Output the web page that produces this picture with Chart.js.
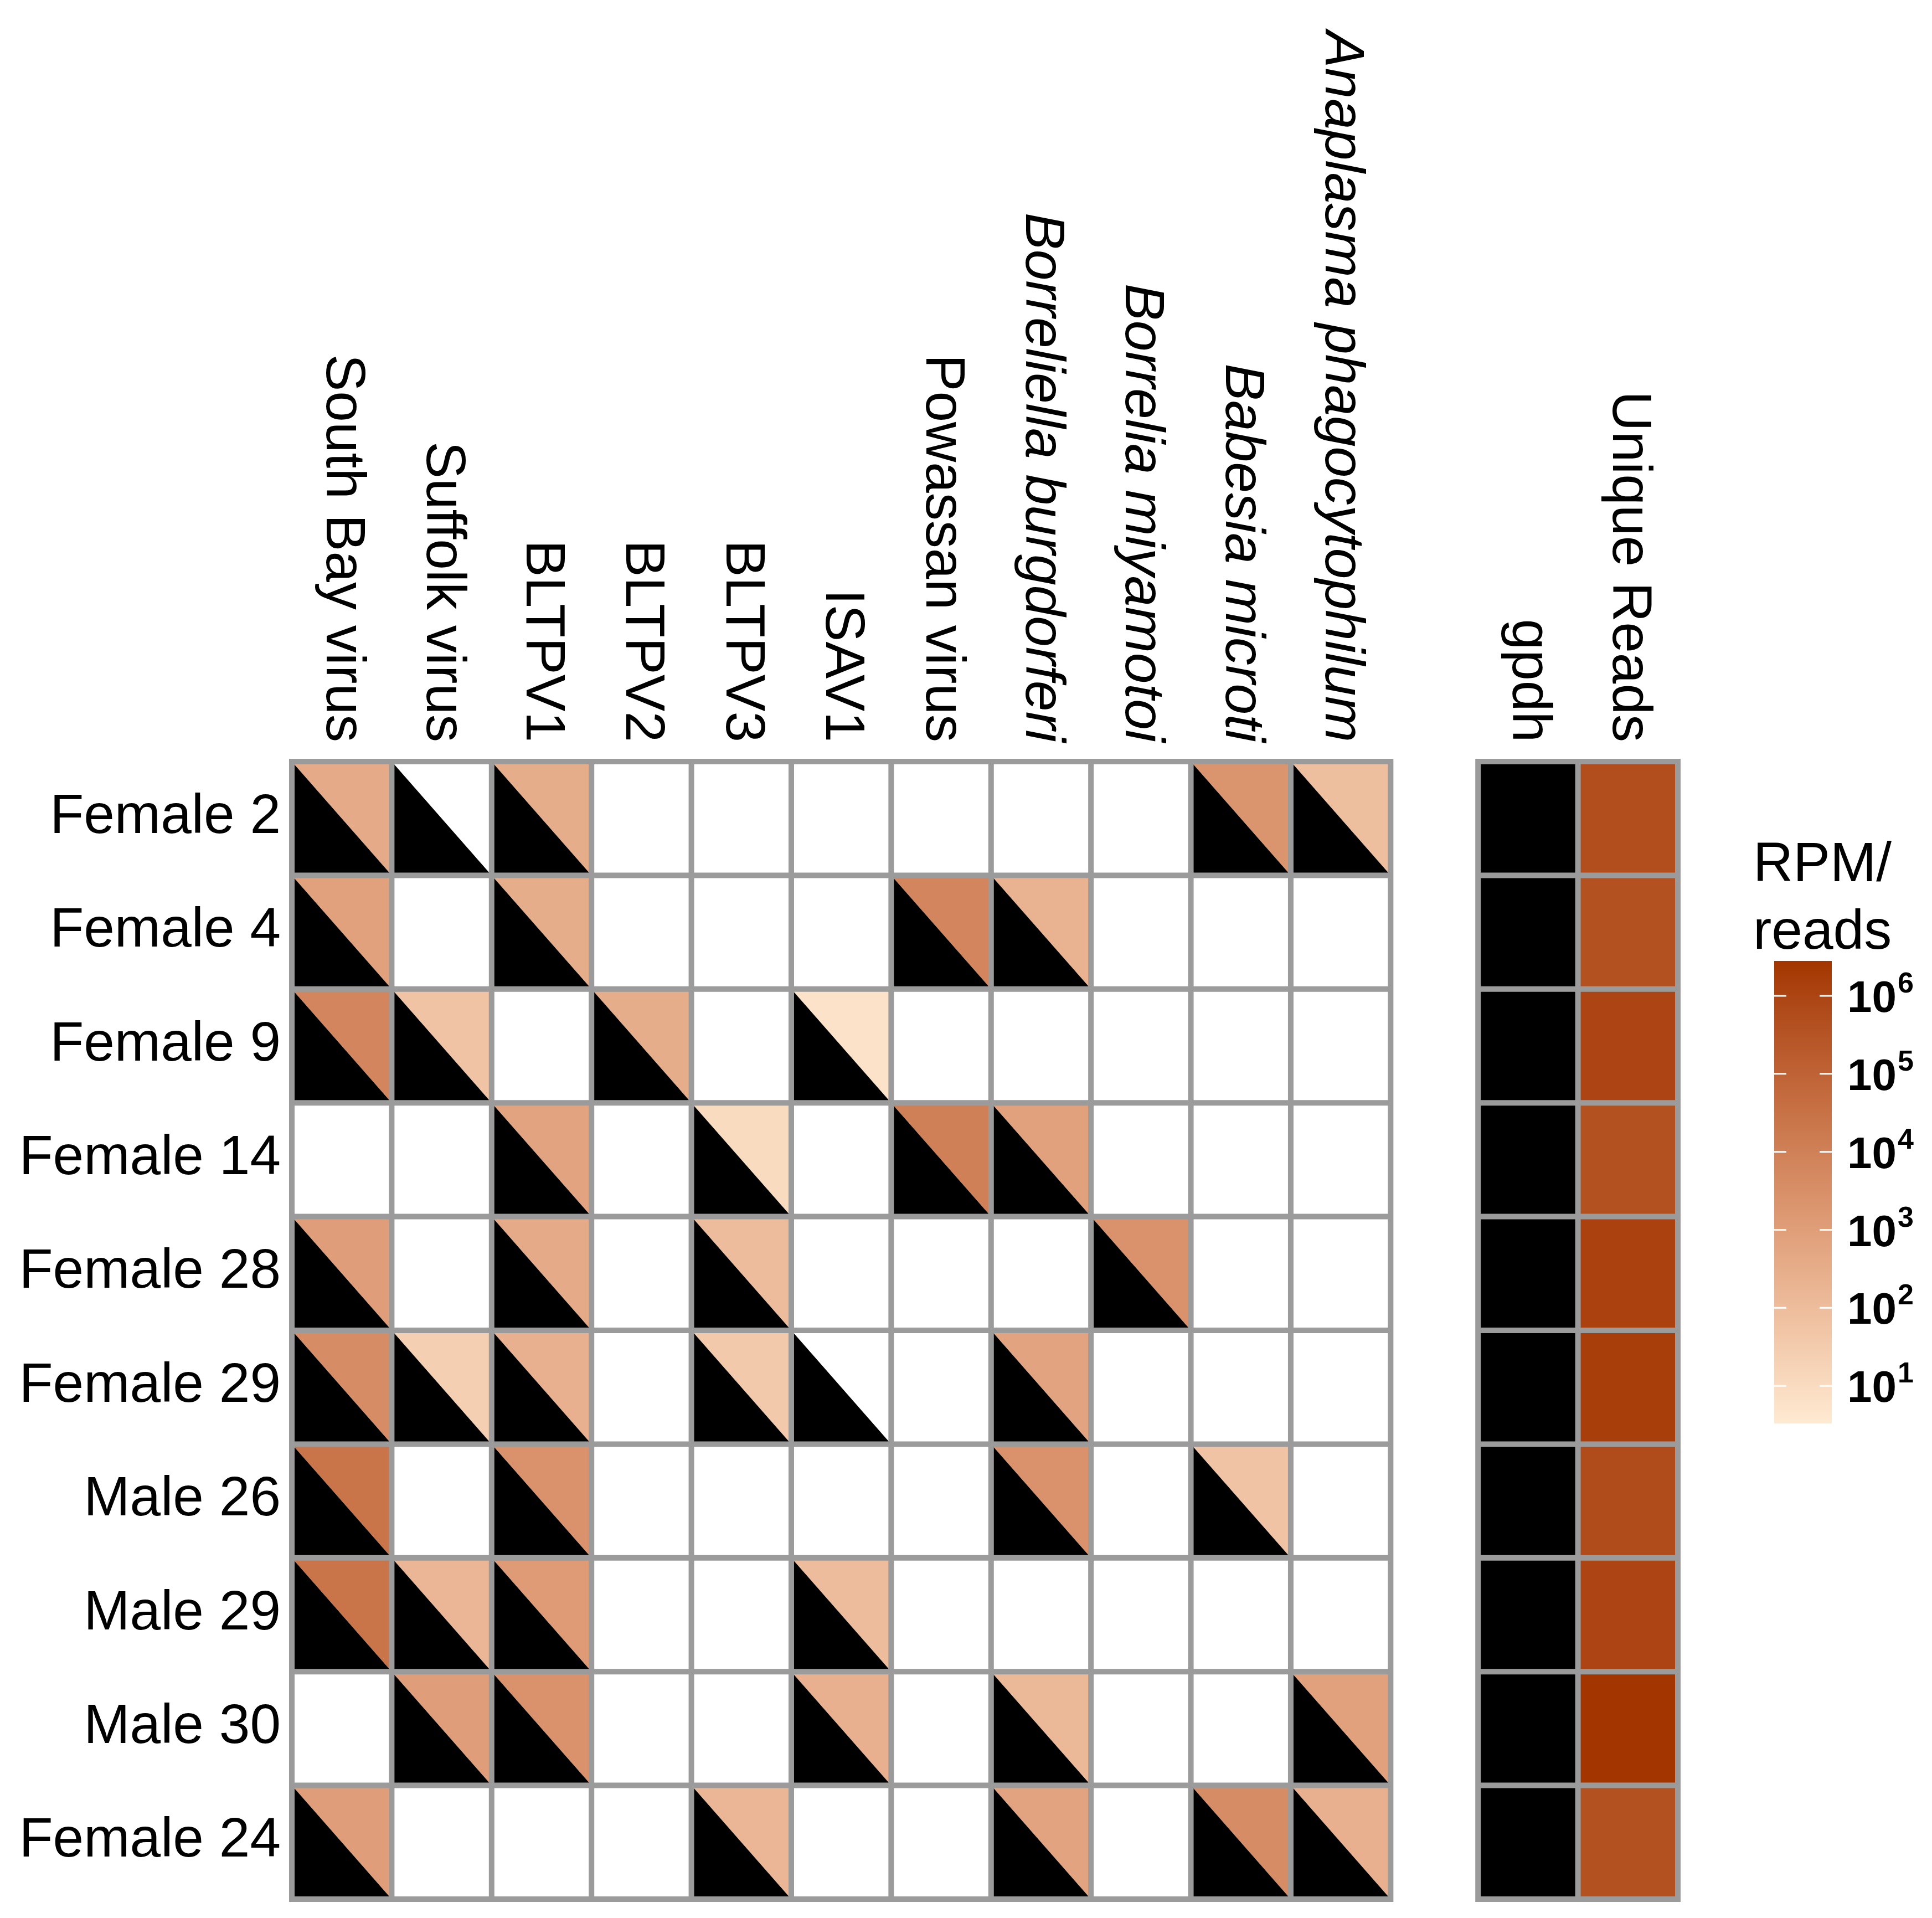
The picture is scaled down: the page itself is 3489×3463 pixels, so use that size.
<!DOCTYPE html>
<html>
<head>
<meta charset="utf-8">
<script src="https://cdn.jsdelivr.net/npm/chart.js@4.4.1/dist/chart.umd.min.js"></script>
<style>
html,body{margin:0;padding:0;background:#ffffff;}
canvas{display:block;}
</style>
</head>
<body>
<canvas id="c" width="3489" height="3463" style="width:3489px;height:3463px"></canvas>
<script>
// ---------------- DATA ----------------
const samples = ["Female 2","Female 4","Female 9","Female 14","Female 28","Female 29","Male 26","Male 29","Male 30","Female 24"];
const pathogens = ["South Bay virus","Suffolk virus","BLTPV1","BLTPV2","BLTPV3","ISAV1","Powassan virus","Borreliella burgdorferi","Borrelia miyamotoi","Babesia microti","Anaplasma phagocytophilum"];
const italicPathogens = ["Borreliella burgdorferi","Borrelia miyamotoi","Babesia microti","Anaplasma phagocytophilum"];
// RPM per sample (null = not detected, 0 = detected but no RPM value)
const southBay    = [400, 800, 6300, null, 1000, 4000, 25000, 25000, null, 1000];
const suffolk     = [0, null, 60, null, null, 25, null, 160, 1000, null];
const bltpv1      = [320, 320, null, 630, 400, 250, 2500, 1250, 2500, null];
const bltpv2      = [null, null, 320, null, null, null, null, null, null, null];
const bltpv3      = [null, null, null, 10, 100, 40, null, null, null, 160];
const isav1       = [null, null, 6, null, null, 0, null, 100, 250, null];
const powassan    = [null, 6300, null, 10000, null, null, null, null, null, null];
const borreliella = [null, 200, null, 800, null, 630, 2500, null, 125, 630];
const miyamotoi   = [null, null, null, null, 2500, null, null, null, null, null];
const babesia     = [2000, null, null, null, null, null, 60, null, null, 4000];
const anaplasma   = [80, null, null, null, null, null, null, null, 800, 250];
const gpdh        = [1, 1, 1, 1, 1, 1, 1, 1, 1, 1];
const uniqueReads = [500000, 400000, 1000000, 400000, 1300000, 1600000, 600000, 1000000, 2800000, 400000];
const controlLabels = ["gpdh", "Unique Reads"];
const legendTitle = ["RPM/", "reads"];
const legendTicks = [10, 100, 1000, 10000, 100000, 1000000];
const colourLimits = [3.3, 2800000];

const pathogenSeries = [southBay, suffolk, bltpv1, bltpv2, bltpv3, isav1, powassan, borreliella, miyamotoi, babesia, anaplasma];

// ---------------- COLOUR SCALE (Lab interpolation) ----------------
const LOW = [254, 234, 210], HIGH = [163, 54, 0];
function srgb2lin(c){c/=255;return c<=0.04045?c/12.92:Math.pow((c+0.055)/1.055,2.4);}
function lin2srgb(c){const v=c<=0.0031308?12.92*c:1.055*Math.pow(c,1/2.4)-0.055;return Math.max(0,Math.min(255,Math.round(v*255)));}
function rgb2lab(rgb){
  const r=srgb2lin(rgb[0]),g=srgb2lin(rgb[1]),b=srgb2lin(rgb[2]);
  let x=(r*0.4124+g*0.3576+b*0.1805)/0.95047,y=(r*0.2126+g*0.7152+b*0.0722),z=(r*0.0193+g*0.1192+b*0.9505)/1.08883;
  const f=t=>t>0.008856?Math.cbrt(t):7.787*t+16/116;
  x=f(x);y=f(y);z=f(z);
  return [116*y-16,500*(x-y),200*(y-z)];
}
function lab2rgb(lab){
  let y=(lab[0]+16)/116,x=lab[1]/500+y,z=y-lab[2]/200;
  const fi=t=>{const t3=t*t*t;return t3>0.008856?t3:(t-16/116)/7.787;};
  x=fi(x)*0.95047;y=fi(y);z=fi(z)*1.08883;
  const r=x*3.2406+y*-1.5372+z*-0.4986,g=x*-0.9689+y*1.8758+z*0.0415,b=x*0.0557+y*-0.2040+z*1.0570;
  return [lin2srgb(r),lin2srgb(g),lin2srgb(b)];
}
const LOWLAB=rgb2lab(LOW), HIGHLAB=rgb2lab(HIGH);
const LMIN=Math.log10(colourLimits[0]), LMAX=Math.log10(colourLimits[1]);
function colourFor(v){
  if(v===null||v===undefined||v<=0) return "#ffffff";
  let t=(Math.log10(v)-LMIN)/(LMAX-LMIN); t=Math.max(0,Math.min(1,t));
  const lab=[0,1,2].map(i=>LOWLAB[i]+(HIGHLAB[i]-LOWLAB[i])*t);
  const c=lab2rgb(lab);
  return "rgb("+c[0]+","+c[1]+","+c[2]+")";
}

// ---------------- LAYOUT ----------------
const GAP = 0.875;
const NCOL = pathogens.length;
const GPDH_X = NCOL + GAP + 0.5;
const UNIQUE_X = NCOL + GAP + 1.5;
const X_MAX = NCOL + GAP + 2;
const FONT = "'Liberation Sans', Arial, Helvetica, sans-serif";
const GRID_COLOUR = "#9b9b9b";
const GRID_WIDTH = 10;

const datasets = pathogenSeries.map((arr, ci) => ({
  label: pathogens[ci],
  kind: "tri",
  data: arr.map((v, ri) => ({x: ci + 0.5, y: ri + 0.5, v: v})),
  pointRadius: 0
}));
datasets.push({label: controlLabels[0], kind: "black", data: gpdh.map((v, ri) => ({x: GPDH_X, y: ri + 0.5, v: v})), pointRadius: 0});
datasets.push({label: controlLabels[1], kind: "fill", data: uniqueReads.map((v, ri) => ({x: UNIQUE_X, y: ri + 0.5, v: v})), pointRadius: 0});

const heatPlugin = {
  id: "heatTri",
  beforeDatasetsDraw(chart) {
    const ctx = chart.ctx, xs = chart.scales.x, ys = chart.scales.y;
    const cw = xs.getPixelForValue(1) - xs.getPixelForValue(0);
    const ch = ys.getPixelForValue(1) - ys.getPixelForValue(0);
    ctx.save();
    chart.data.datasets.forEach((ds, di) => {
      const meta = chart.getDatasetMeta(di);
      meta.data.forEach((el, i) => {
        const raw = ds.data[i];
        const l = el.x - cw / 2, t = el.y - ch / 2, r = el.x + cw / 2, b = el.y + ch / 2;
        ctx.fillStyle = "#ffffff";
        ctx.fillRect(l, t, cw, ch);
        if (ds.kind === "tri") {
          if (raw.v === null) return;
          ctx.fillStyle = colourFor(raw.v);
          ctx.beginPath(); ctx.moveTo(l, t); ctx.lineTo(r, t); ctx.lineTo(r, b); ctx.closePath(); ctx.fill();
          ctx.fillStyle = "#000000";
          ctx.beginPath(); ctx.moveTo(l, t); ctx.lineTo(l, b); ctx.lineTo(r, b); ctx.closePath(); ctx.fill();
        } else if (ds.kind === "black") {
          ctx.fillStyle = raw.v ? "#000000" : "#ffffff";
          ctx.fillRect(l, t, cw, ch);
        } else {
          ctx.fillStyle = colourFor(raw.v);
          ctx.fillRect(l, t, cw, ch);
        }
      });
    });
    ctx.strokeStyle = GRID_COLOUR;
    ctx.lineWidth = GRID_WIDTH;
    ctx.lineCap = "square";
    const top = ys.getPixelForValue(0), bottom = ys.getPixelForValue(samples.length);
    const blocks = [[0, NCOL], [NCOL + GAP, X_MAX]];
    blocks.forEach(([a, bnd]) => {
      const x0 = xs.getPixelForValue(a), x1 = xs.getPixelForValue(bnd);
      ctx.beginPath();
      for (let k = a; k <= bnd + 1e-6; k += 1) {
        const px = xs.getPixelForValue(k);
        ctx.moveTo(px, top); ctx.lineTo(px, bottom);
      }
      for (let r = 0; r <= samples.length; r++) {
        const py = ys.getPixelForValue(r);
        ctx.moveTo(x0, py); ctx.lineTo(x1, py);
      }
      ctx.stroke();
    });
    ctx.restore();
  },
  afterDraw(chart) {
    const ctx = chart.ctx, xs = chart.scales.x, ys = chart.scales.y;
    ctx.save();
    ctx.fillStyle = "#000000";
    ctx.font = "100px " + FONT;
    ctx.textAlign = "right";
    ctx.textBaseline = "alphabetic";
    const labelRight = xs.getPixelForValue(0) - 20;
    samples.forEach((s, ri) => {
      ctx.fillText(s, labelRight, ys.getPixelForValue(ri + 0.5) + 26);
    });
    const colLabelEnd = ys.getPixelForValue(0) - 35;
    const colItems = pathogens.map((p, ci) => ({text: p, x: ci + 0.5, italic: italicPathogens.includes(p)}));
    colItems.push({text: controlLabels[0], x: GPDH_X, italic: false});
    colItems.push({text: controlLabels[1], x: UNIQUE_X, italic: false});
    colItems.forEach(it => {
      const px = xs.getPixelForValue(it.x);
      ctx.save();
      ctx.translate(px - 27, colLabelEnd);
      ctx.rotate(Math.PI / 2);
      ctx.font = (it.italic ? "italic " : "") + "100px " + FONT;
      ctx.textAlign = "right";
      ctx.textBaseline = "alphabetic";
      ctx.fillText(it.text, 0, 0);
      ctx.restore();
    });
    const cbL = 3204, cbR = 3308, cbT = 1735, cbB = 2570;
    ctx.font = "100px " + FONT;
    ctx.textAlign = "left";
    ctx.fillText(legendTitle[0], 3166, 1591);
    ctx.fillText(legendTitle[1], 3166, 1713);
    const yFor = v => cbB - (Math.log10(v) - LMIN) / (LMAX - LMIN) * (cbB - cbT);
    for (let y = cbT; y < cbB; y++) {
      const lv = LMAX - (y + 0.5 - cbT) / (cbB - cbT) * (LMAX - LMIN);
      ctx.fillStyle = colourFor(Math.pow(10, lv));
      ctx.fillRect(cbL, y, cbR - cbL, 1.2);
    }
    ctx.strokeStyle = "#ffffff";
    ctx.lineWidth = 3;
    legendTicks.forEach(v => {
      const y = yFor(v);
      ctx.beginPath();
      ctx.moveTo(cbL, y); ctx.lineTo(cbL + 22, y);
      ctx.moveTo(cbR - 22, y); ctx.lineTo(cbR, y);
      ctx.stroke();
      const exp = Math.round(Math.log10(v));
      ctx.fillStyle = "#000000";
      ctx.font = "bold 80px " + FONT;
      ctx.textAlign = "left";
      ctx.fillText("10", 3336, y + 29);
      const w = ctx.measureText("10").width;
      ctx.font = "bold 52px " + FONT;
      ctx.fillText(String(exp), 3336 + w + 2, y - 6);
    });
    ctx.restore();
  }
};

new Chart(document.getElementById("c"), {
  type: "scatter",
  data: {datasets: datasets},
  options: {
    responsive: false,
    devicePixelRatio: 1,
    animation: false,
    layout: {padding: {left: 527, right: 3489 - 3030, top: 1375, bottom: 3463 - 3429}},
    plugins: {legend: {display: false}, tooltip: {enabled: false}},
    scales: {
      x: {type: "linear", min: 0, max: X_MAX, display: false},
      y: {type: "linear", min: 0, max: samples.length, reverse: true, display: false}
    }
  },
  plugins: [heatPlugin]
});
</script>
</body>
</html>
